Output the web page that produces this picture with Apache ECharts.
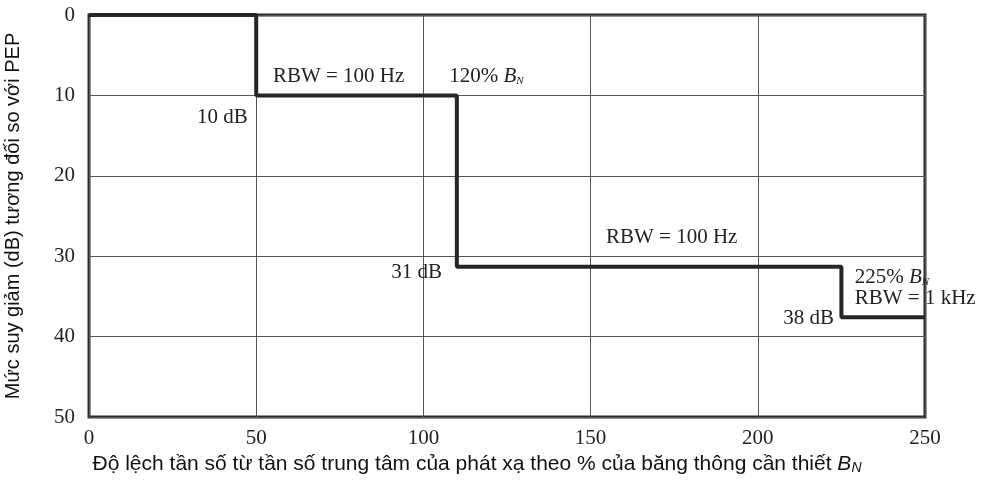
<!DOCTYPE html>
<html>
<head>
<meta charset="utf-8">
<script src="https://cdn.jsdelivr.net/npm/echarts@6/dist/echarts.min.js"></script>
<style>html,body{margin:0;padding:0;background:#fff}#c{width:982px;height:490px}</style>
</head>
<body>
<div id="c"></div>
<script>
// Step mask: breakpoints (% of B_N) and attenuation levels (dB)
var stepX = [0, 50, 110, 225, 250];
var stepY = [0, 10, 31.3, 37.6, 37.6];
var xTicks = [0, 50, 100, 150, 200, 250];
var yTicks = [0, 10, 20, 30, 40, 50];
// Annotations: [x, y, text, anchor]
var annotations = [
  [55, 7.6, 'RBW = 100 Hz', 'left'],
  [107.7, 7.6, '120% {i|B}{s|N}', 'left'],
  [47.5, 12.7, '10 dB', 'right'],
  [154.6, 27.7, 'RBW = 100 Hz', 'left'],
  [105.6, 32, '31 dB', 'right'],
  [229, 32.6, '225% {i|B}{s|N}', 'left'],
  [229, 35.3, 'RBW = 1 kHz', 'left'],
  [222.8, 37.8, '38 dB', 'right']
];

var serif = '"Liberation Serif", "Times New Roman", serif';
var sans = '"Liberation Sans", Arial, sans-serif';
var chart = echarts.init(document.getElementById('c'));
var data = stepX.map(function (x, i) { return [x, stepY[i]]; });

var option = {
  animation: false,
  grid: { left: 89, right: 57, top: 15, bottom: 73, containLabel: false, outerBoundsMode: 'none',
          show: true, borderColor: '#2b2b2b', borderWidth: 3, backgroundColor: 'transparent' },
  xAxis: {
    type: 'value', min: 0, max: 250, interval: 50,
    axisLine: { show: false }, axisTick: { show: false },
    splitLine: { lineStyle: { color: '#555', width: 1 } },
    axisLabel: { fontFamily: serif, fontSize: 21, color: '#222', margin: 11 },
    name: 'Độ lệch tần số từ tần số trung tâm của phát xạ theo % của băng thông cần thiết {i|B}{s|N}',
    nameLocation: 'middle', nameGap: 37,
    nameTextStyle: {
      fontFamily: sans, fontSize: 21, color: '#111', padding: [0, 60, 0, 0],
      rich: {
        i: { fontFamily: sans, fontSize: 21, fontStyle: 'italic', color: '#111' },
        s: { fontFamily: sans, fontSize: 14, fontStyle: 'italic', color: '#111', verticalAlign: 'bottom', padding: [6, 0, 0, 0] }
      }
    }
  },
  yAxis: {
    type: 'value', min: 0, max: 50, interval: 10, inverse: true,
    axisLine: { show: false }, axisTick: { show: false },
    splitLine: { lineStyle: { color: '#555', width: 1 } },
    axisLabel: { fontFamily: serif, fontSize: 21, color: '#222', margin: 14 },
    name: 'Mức suy giảm (dB) tương đối so với PEP',
    nameLocation: 'middle', nameGap: 66, nameRotate: 90,
    nameTextStyle: { fontFamily: sans, fontSize: 20, color: '#111' }
  },
  series: [{
    type: 'line', data: data, step: 'end', symbol: 'none', clip: false,
    lineStyle: { color: '#262626', width: 4 }
  }]
};
chart.setOption(option);

var graphics = annotations.map(function (a) {
  var p = chart.convertToPixel({ gridIndex: 0 }, [a[0], a[1]]);
  return {
    type: 'text', x: p[0], y: p[1], z: 10,
    style: {
      text: a[2], align: a[3], verticalAlign: 'middle',
      font: '21px ' + serif, fill: '#222',
      rich: {
        i: { fontFamily: serif, fontSize: 21, fontStyle: 'italic', fill: '#222' },
        s: { fontFamily: serif, fontSize: 11, fontStyle: 'italic', fill: '#222', verticalAlign: 'bottom', padding: [4, 0, 0, 0] }
      }
    }
  };
});
chart.setOption({ graphic: graphics });
</script>
</body>
</html>
